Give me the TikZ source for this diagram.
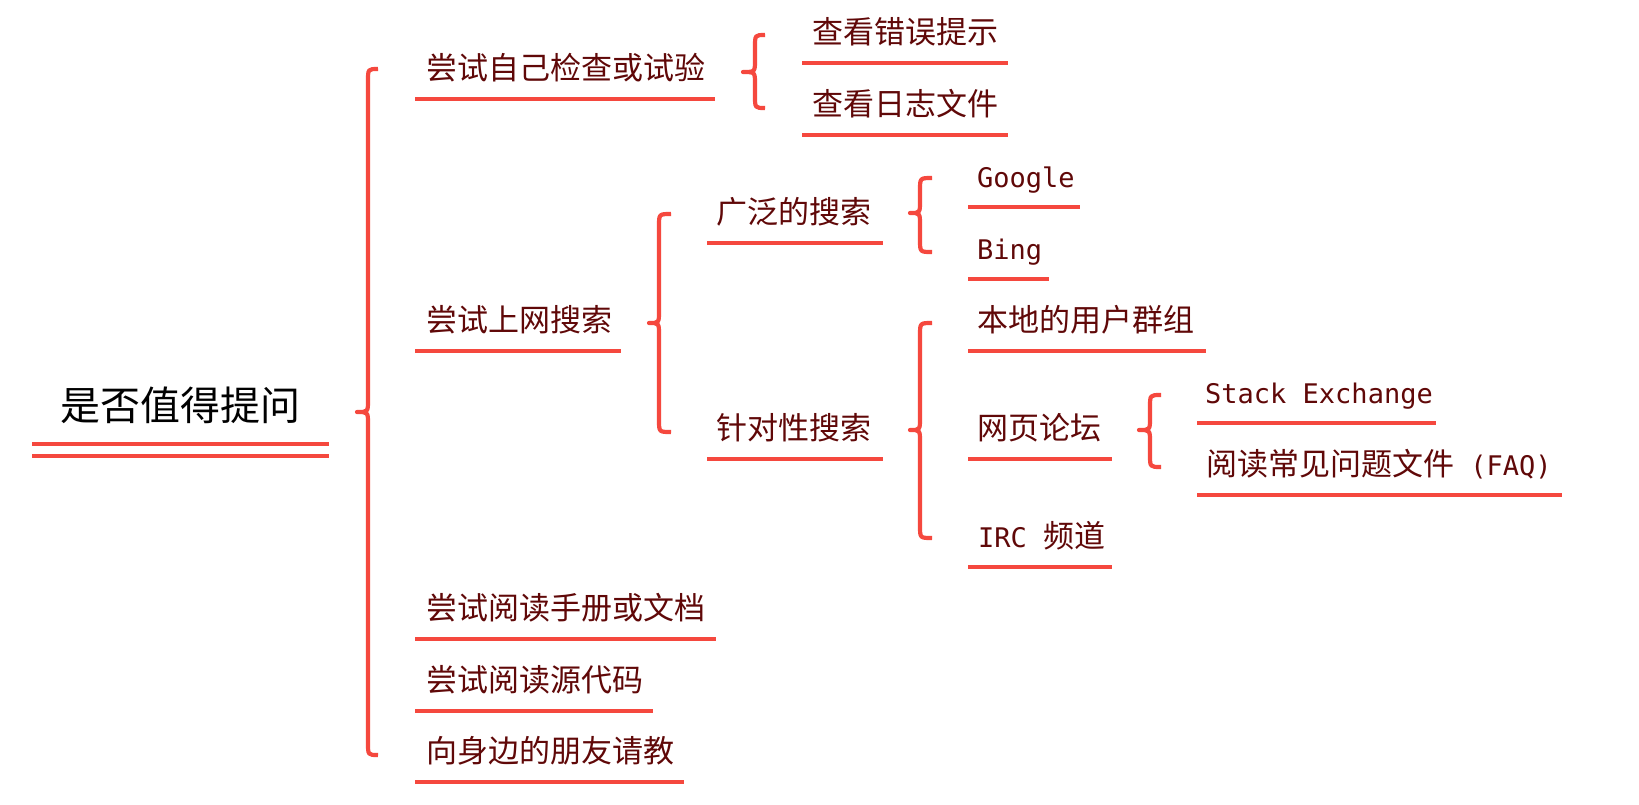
\documentclass[tikz,border=0pt]{standalone}
\usepackage{fontspec}
\newfontfamily\cjkf{Noto Sans CJK SC}
\newfontfamily\latf{DejaVu Sans Mono}
\definecolor{txtred}{RGB}{96,8,8}
\definecolor{linered}{RGB}{245,72,62}
\tikzset{
  lbl/.style={anchor=base west, inner sep=0pt, text=txtred, font=\cjkf\fontsize{31}{36}\selectfont},
  uline/.style={draw=linered, line width=4pt},
  brc/.style={draw=linered, line width=4.2pt, line join=round},
}
\newcommand\latin[1]{{\latf\fontsize{27}{31}\selectfont #1}}
% #1 tip x, #2 vertical x, #3 end x, #4 top y, #5 tip y, #6 bottom y
\newcommand\mybrace[6]{%
  \draw[brc] (#3,#4) .. controls (#2,#4) .. (#2,#4+12) -- (#2,#5-12)
    .. controls (#2,#5) .. (#1,#5) .. controls (#2,#5) .. (#2,#5+12)
    -- (#2,#6-12) .. controls (#2,#6) .. (#3,#6);}
% #1 name, #2 text x, #3 baseline, #4 line start, #5 line end, #6 text
\newcommand\lineitem[6]{%
  \node[lbl] (#1) at (#2,#3) {#6};
  \draw[uline] (#4,#3+20) -- (#5,#3+20);}
\begin{document}
\begin{tikzpicture}[x=1pt,y=-1pt]
\useasboundingbox (0,0) rectangle (1639,804);
\fill[white] (0,0) rectangle (1639,804);

% root
\node[anchor=base, inner sep=0pt, font=\cjkf\fontsize{40}{46}\selectfont] (root) at (180,420) {是否值得提问};
\draw[uline] (32,444) -- (329,444);
\draw[uline] (32,456) -- (329,456);

% braces
\mybrace{357}{368}{378}{69}{412}{755}
\mybrace{743}{755}{765}{35}{72}{108}
\mybrace{649}{659}{671}{214}{323}{432}
\mybrace{910}{920}{932}{178}{213}{252}
\mybrace{910}{920}{932}{323}{430}{538}
\mybrace{1139}{1150}{1161}{395}{430}{467}

% level 1
\lineitem{a1}{426}{79}{415}{715}{尝试自己检查或试验}
\lineitem{a2}{426}{331}{415}{621}{尝试上网搜索}
\lineitem{a3}{426}{619}{415}{716}{尝试阅读手册或文档}
\lineitem{a4}{426}{691}{415}{653}{尝试阅读源代码}
\lineitem{a5}{426}{762}{415}{684}{向身边的朋友请教}

% level 2
\lineitem{b1}{812}{43}{802}{1008}{查看错误提示}
\lineitem{b2}{812}{115}{802}{1008}{查看日志文件}
\lineitem{c1}{716}{223}{707}{883}{广泛的搜索}
\lineitem{c2}{716}{439}{707}{883}{针对性搜索}

% level 3
\lineitem{d1}{977}{187}{968}{1080}{\latin{Google}}
\lineitem{d2}{977}{259}{968}{1049}{\latin{Bing}}
\lineitem{e1}{977}{331}{968}{1206}{本地的用户群组}
\lineitem{e2}{977}{439}{968}{1112}{网页论坛}
\lineitem{e3}{978}{547}{968}{1112}{\latin{IRC }频道}

% level 4
\lineitem{f1}{1205}{403}{1197}{1436}{\latin{Stack Exchange}}
\lineitem{f2}{1206}{475}{1197}{1562}{阅读常见问题文件\latin{ (FAQ)}}
\end{tikzpicture}
\end{document}
